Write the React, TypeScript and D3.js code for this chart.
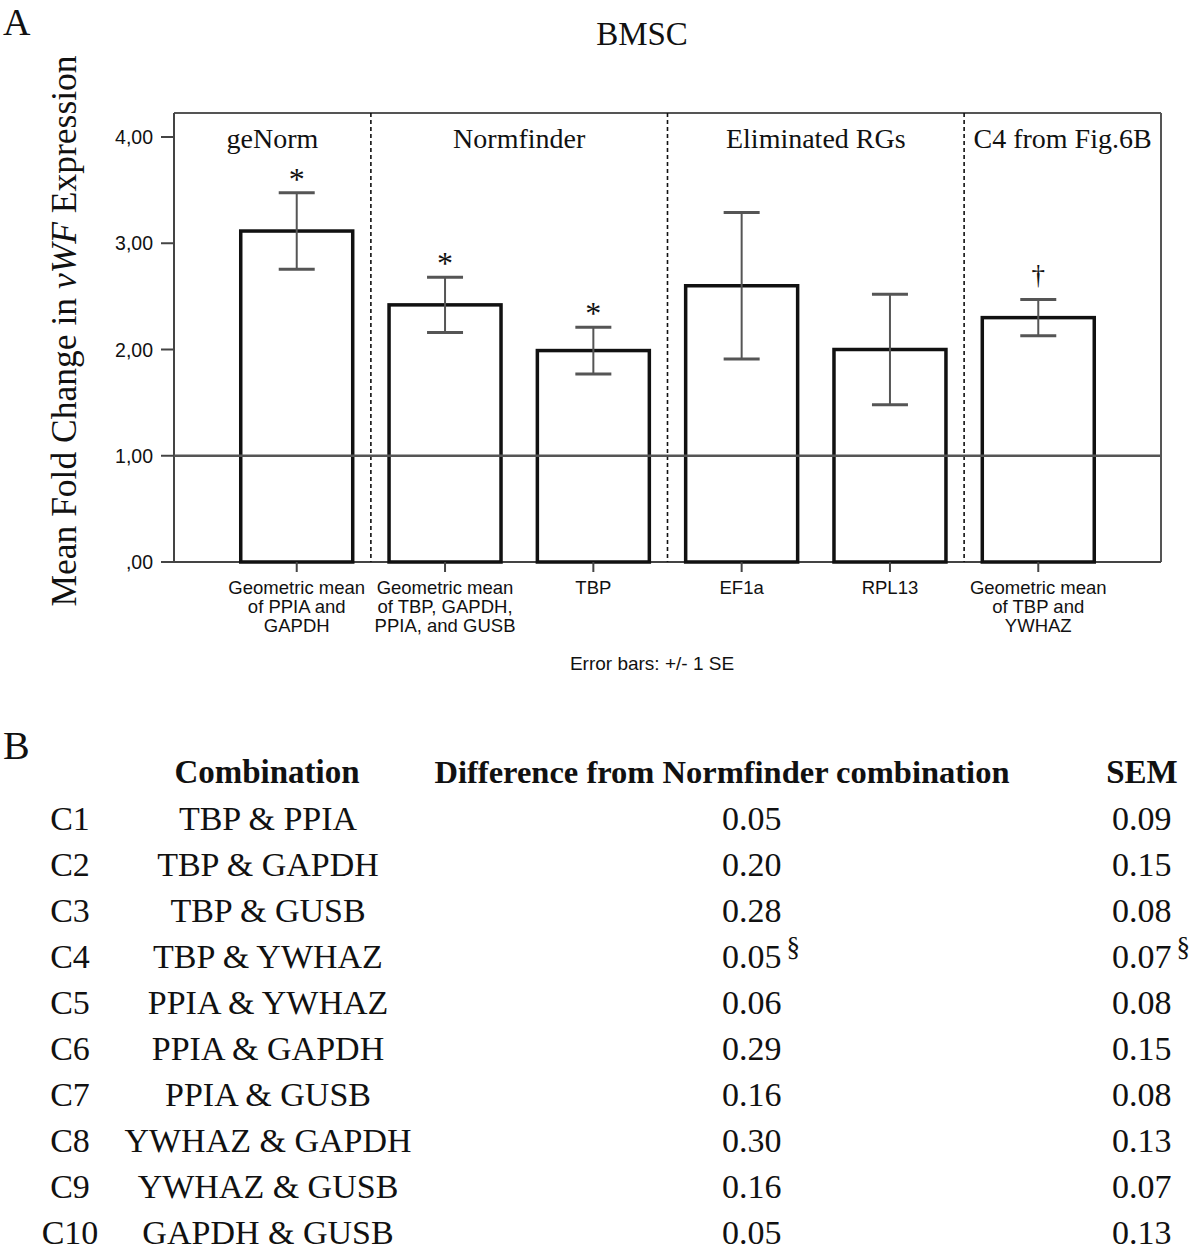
import React from "react";
import * as d3 from "d3";

// ---------- Panel A data ----------
const categoryLines: string[][] = [
  ["Geometric mean", "of PPIA and", "GAPDH"],
  ["Geometric mean", "of TBP, GAPDH,", "PPIA, and GUSB"],
  ["TBP"],
  ["EF1a"],
  ["RPL13"],
  ["Geometric mean", "of TBP and", "YWHAZ"],
];
const meanValues = [3.115, 2.42, 1.99, 2.6, 2.0, 2.3];
const seValues = [0.36, 0.26, 0.22, 0.69, 0.52, 0.17];
const significance = ["*", "*", "*", "", "", "†"];
const groupNames = ["geNorm", "Normfinder", "Eliminated RGs", "C4 from Fig.6B"];
const groupSizes = [1, 2, 2, 1];
const yTicks = [0, 1, 2, 3, 4];
const referenceValue = 1;

// ---------- Panel B data ----------
const rowLabels = ["C1", "C2", "C3", "C4", "C5", "C6", "C7", "C8", "C9", "C10"];
const combinations = [
  "TBP & PPIA",
  "TBP & GAPDH",
  "TBP & GUSB",
  "TBP & YWHAZ",
  "PPIA & YWHAZ",
  "PPIA & GAPDH",
  "PPIA & GUSB",
  "YWHAZ & GAPDH",
  "YWHAZ & GUSB",
  "GAPDH & GUSB",
];
const differences = ["0.05", "0.20", "0.28", "0.05", "0.06", "0.29", "0.16", "0.30", "0.16", "0.05"];
const semValues = ["0.09", "0.15", "0.08", "0.07", "0.08", "0.15", "0.08", "0.13", "0.07", "0.13"];
const footnoteRows = [false, false, false, true, false, false, false, false, false, false];
const tableHeaders = ["Combination", "Difference from Normfinder combination", "SEM"];

const SERIF = "'Liberation Serif', 'Times New Roman', serif";
const SANS = "'Liberation Sans', Arial, sans-serif";

export default function App() {
  const W = 1200;
  const H = 1250;
  const plotLeft = 174;
  const plotRight = 1161;
  const plotTop = 113;

  const x = d3
    .scaleBand<number>()
    .domain(d3.range(meanValues.length))
    .range([plotLeft, plotRight])
    .paddingInner(0.245)
    .paddingOuter(0.45);
  const y = d3.scaleLinear().domain([0, 4]).range([562, 137]);
  const plotBottom = y(0);
  const bw = x.bandwidth();
  const capW = 36;

  const fmtTick = (v: number) => {
    const s = d3.format(".2f")(v).replace(".", ",");
    return s.startsWith("0") ? s.slice(1) : s;
  };

  // group boundaries
  const cum: number[] = [];
  let acc = 0;
  groupSizes.forEach((g) => {
    cum.push(acc);
    acc += g;
  });
  const boundaryX = (idx: number) => (x(idx - 1)! + bw + x(idx)!) / 2;
  const groupRegions = groupSizes.map((g, i) => {
    const s = cum[i];
    const e = s + g - 1;
    const x0 = s === 0 ? plotLeft : boundaryX(s);
    const x1 = e === meanValues.length - 1 ? plotRight : boundaryX(e + 1);
    return { x0, x1, name: groupNames[i] };
  });
  const dividers = cum.slice(1).map((s) => boundaryX(s));

  // table layout
  const rowY = d3.scaleLinear().domain([0, rowLabels.length - 1]).range([830, 1244]);

  return (
    <svg
      width={W}
      height={H}
      viewBox={`0 0 ${W} ${H}`}
      style={{ position: "absolute", left: 0, top: 0, display: "block", background: "#fff" }}
    >
      <rect x={0} y={0} width={W} height={H} fill="#fff" />
      {/* Panel label and title */}
      <text x={3} y={35} fontFamily={SERIF} fontSize={38} fill="#111">A</text>
      <text x={642} y={45} textAnchor="middle" fontFamily={SERIF} fontSize={33} fill="#111">BMSC</text>

      {/* Y-axis title */}
      <text
        transform={`translate(76, ${331}) rotate(-90)`}
        textAnchor="middle"
        fontFamily={SERIF}
        fontSize={35.5}
        fill="#111"
      >
        Mean Fold Change in <tspan fontStyle="italic">vWF</tspan> Expression
      </text>

      {/* Frame */}
      <line x1={plotLeft} x2={plotRight} y1={plotTop} y2={plotTop} stroke="#555" strokeWidth={2} />
      <line x1={plotRight} x2={plotRight} y1={plotTop} y2={plotBottom} stroke="#555" strokeWidth={2} />
      <line x1={plotLeft} x2={plotLeft} y1={plotTop} y2={plotBottom} stroke="#444" strokeWidth={2} />
      <line x1={plotLeft} x2={plotRight} y1={plotBottom} y2={plotBottom} stroke="#444" strokeWidth={2} />

      {/* Y ticks */}
      {yTicks.map((t) => (
        <g key={t}>
          <line x1={plotLeft - 13} x2={plotLeft} y1={y(t)} y2={y(t)} stroke="#444" strokeWidth={2} />
          <text
            x={plotLeft - 21}
            y={y(t) + 7}
            textAnchor="end"
            fontFamily={SANS}
            fontSize={19.5}
            fill="#111"
          >
            {fmtTick(t)}
          </text>
        </g>
      ))}

      {/* Group dividers */}
      {dividers.map((dx, i) => (
        <line
          key={i}
          x1={dx}
          x2={dx}
          y1={plotTop}
          y2={plotBottom}
          stroke="#111"
          strokeWidth={1.6}
          strokeDasharray="4 3"
        />
      ))}

      {/* Group labels */}
      {groupRegions.map((g, i) => (
        <text
          key={i}
          x={(g.x0 + g.x1) / 2}
          y={148}
          textAnchor="middle"
          fontFamily={SERIF}
          fontSize={28}
          fill="#111"
        >
          {g.name}
        </text>
      ))}

      {/* Bars */}
      {meanValues.map((v, i) => (
        <rect
          key={i}
          x={x(i)!}
          y={y(v)}
          width={bw}
          height={plotBottom - y(v)}
          fill="none"
          stroke="#111"
          strokeWidth={3.5}
        />
      ))}

      {/* Reference line */}
      <line
        x1={plotLeft}
        x2={plotRight}
        y1={y(referenceValue)}
        y2={y(referenceValue)}
        stroke="#555"
        strokeWidth={2.5}
      />

      {/* Error bars */}
      {meanValues.map((v, i) => {
        const cx = x(i)! + bw / 2;
        const hi = y(v + seValues[i]);
        const lo = y(v - seValues[i]);
        return (
          <g key={i} stroke="#555">
            <line x1={cx} x2={cx} y1={hi} y2={lo} strokeWidth={2} />
            <line x1={cx - capW / 2} x2={cx + capW / 2} y1={hi} y2={hi} strokeWidth={3} />
            <line x1={cx - capW / 2} x2={cx + capW / 2} y1={lo} y2={lo} strokeWidth={3} />
          </g>
        );
      })}

      {/* Significance markers */}
      {significance.map((s, i) =>
        s ? (
          <text
            key={i}
            x={x(i)! + bw / 2}
            y={y(meanValues[i] + seValues[i]) - (s === "*" ? 3 : 16)}
            textAnchor="middle"
            fontFamily={SERIF}
            fontSize={s === "*" ? 32 : 27}
            fill="#111"
          >
            {s}
          </text>
        ) : null
      )}

      {/* Category ticks and labels */}
      {categoryLines.map((lines, i) => {
        const cx = x(i)! + bw / 2;
        return (
          <g key={i}>
            <line x1={cx} x2={cx} y1={plotBottom} y2={plotBottom + 10} stroke="#444" strokeWidth={2} />
            <text textAnchor="middle" fontFamily={SANS} fontSize={18.5} fill="#111">
              {lines.map((l, j) => (
                <tspan key={j} x={cx} y={594 + j * 19}>
                  {l}
                </tspan>
              ))}
            </text>
          </g>
        );
      })}

      <text x={652} y={670} textAnchor="middle" fontFamily={SANS} fontSize={19} fill="#111">
        Error bars: +/- 1 SE
      </text>

      {/* Panel B */}
      <text x={3} y={759} fontFamily={SERIF} fontSize={40} fill="#111">B</text>
      <text x={267} y={783} textAnchor="middle" fontFamily={SERIF} fontSize={33} fontWeight="bold" fill="#111">
        {tableHeaders[0]}
      </text>
      <text x={722} y={783} textAnchor="middle" fontFamily={SERIF} fontSize={32.5} fontWeight="bold" fill="#111">
        {tableHeaders[1]}
      </text>
      <text x={1142} y={783} textAnchor="middle" fontFamily={SERIF} fontSize={33} fontWeight="bold" fill="#111">
        {tableHeaders[2]}
      </text>

      {rowLabels.map((r, i) => {
        const yy = rowY(i);
        return (
          <g key={r} fontFamily={SERIF} fontSize={34} fill="#111">
            <text x={70} y={yy} textAnchor="middle">{r}</text>
            <text x={268} y={yy} textAnchor="middle">{combinations[i]}</text>
            <text x={722} y={yy} textAnchor="start">
              {differences[i]}
              {footnoteRows[i] ? (
                <tspan dx={5} dy={-12} fontSize={27}>§</tspan>
              ) : null}
            </text>
            <text x={1112} y={yy} textAnchor="start">
              {semValues[i]}
              {footnoteRows[i] ? (
                <tspan dx={5} dy={-12} fontSize={27}>§</tspan>
              ) : null}
            </text>
          </g>
        );
      })}
    </svg>
  );
}
